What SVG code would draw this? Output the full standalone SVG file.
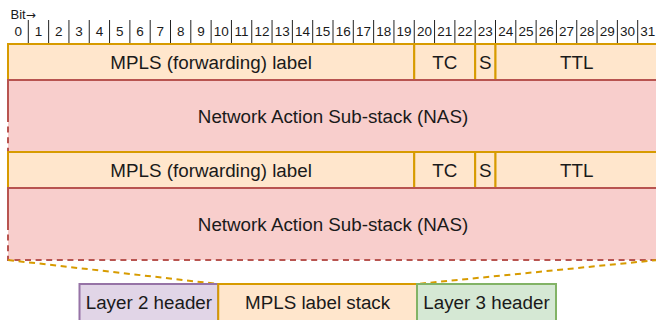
<svg xmlns="http://www.w3.org/2000/svg" width="656" height="320" viewBox="0 0 656 320">
<style>
text{font-family:"Liberation Sans",Arial,sans-serif;fill:#1a1a1a;}
.num{font-size:13.5px;text-anchor:middle;}
.lbl{font-size:18.8px;text-anchor:middle;dominant-baseline:central;}
.mpls{fill:#ffe6cc;stroke:#d79b00;stroke-width:2;}
.nasfill{fill:#f8cecc;stroke:none;}
.nassolid{fill:none;stroke:#b85450;stroke-width:2;}
.nasdash{fill:none;stroke:#b85450;stroke-width:2;stroke-dasharray:6 4.6;}
.tick{stroke:#222;stroke-width:1;}
.l2{fill:#e1d5e7;stroke:#9673a6;stroke-width:2;}
.l3{fill:#d5e8d4;stroke:#82b366;stroke-width:2;}
.conn{fill:none;stroke:#d79b00;stroke-width:2;stroke-dasharray:6 4.6;}
</style>
<g id="bit-ruler">
<text x="10.5" y="18.5" style="font-size:13px">Bit<tspan style="font-family:'DejaVu Sans',sans-serif;font-size:12px">→</tspan></text>
<g class="tick">
<line x1="28.31" y1="20" x2="28.31" y2="44"/><line x1="48.63" y1="20" x2="48.63" y2="44"/><line x1="68.94" y1="20" x2="68.94" y2="44"/><line x1="89.25" y1="20" x2="89.25" y2="44"/><line x1="109.56" y1="20" x2="109.56" y2="44"/><line x1="129.88" y1="20" x2="129.88" y2="44"/><line x1="150.19" y1="20" x2="150.19" y2="44"/><line x1="170.5" y1="20" x2="170.5" y2="44"/><line x1="190.81" y1="20" x2="190.81" y2="44"/><line x1="211.13" y1="20" x2="211.13" y2="44"/><line x1="231.44" y1="20" x2="231.44" y2="44"/><line x1="251.75" y1="20" x2="251.75" y2="44"/><line x1="272.06" y1="20" x2="272.06" y2="44"/><line x1="292.38" y1="20" x2="292.38" y2="44"/><line x1="312.69" y1="20" x2="312.69" y2="44"/><line x1="333" y1="20" x2="333" y2="44"/><line x1="353.31" y1="20" x2="353.31" y2="44"/><line x1="373.63" y1="20" x2="373.63" y2="44"/><line x1="393.94" y1="20" x2="393.94" y2="44"/><line x1="414.25" y1="20" x2="414.25" y2="44"/><line x1="434.56" y1="20" x2="434.56" y2="44"/><line x1="454.88" y1="20" x2="454.88" y2="44"/><line x1="475.19" y1="20" x2="475.19" y2="44"/><line x1="495.5" y1="20" x2="495.5" y2="44"/><line x1="515.81" y1="20" x2="515.81" y2="44"/><line x1="536.13" y1="20" x2="536.13" y2="44"/><line x1="556.44" y1="20" x2="556.44" y2="44"/><line x1="576.75" y1="20" x2="576.75" y2="44"/><line x1="597.06" y1="20" x2="597.06" y2="44"/><line x1="617.38" y1="20" x2="617.38" y2="44"/><line x1="637.69" y1="20" x2="637.69" y2="44"/>
</g>
<g class="num">
<text x="18.16" y="36.3">0</text><text x="38.47" y="36.3">1</text><text x="58.78" y="36.3">2</text><text x="79.09" y="36.3">3</text><text x="99.41" y="36.3">4</text><text x="119.72" y="36.3">5</text><text x="140.03" y="36.3">6</text><text x="160.34" y="36.3">7</text><text x="180.66" y="36.3">8</text><text x="200.97" y="36.3">9</text><text x="221.28" y="36.3">10</text><text x="241.59" y="36.3">11</text><text x="261.91" y="36.3">12</text><text x="282.22" y="36.3">13</text><text x="302.53" y="36.3">14</text><text x="322.84" y="36.3">15</text><text x="343.16" y="36.3">16</text><text x="363.47" y="36.3">17</text><text x="383.78" y="36.3">18</text><text x="404.09" y="36.3">19</text><text x="424.41" y="36.3">20</text><text x="444.72" y="36.3">21</text><text x="465.03" y="36.3">22</text><text x="485.34" y="36.3">23</text><text x="505.66" y="36.3">24</text><text x="525.97" y="36.3">25</text><text x="546.28" y="36.3">26</text><text x="566.59" y="36.3">27</text><text x="586.91" y="36.3">28</text><text x="607.22" y="36.3">29</text><text x="627.53" y="36.3">30</text><text x="647.84" y="36.3">31</text>
</g>
</g>
<g id="mpls-entry-1">
<rect class="mpls" x="8" y="44" width="406.25" height="36"/>
<rect class="mpls" x="414.25" y="44" width="60.94" height="36"/>
<rect class="mpls" x="475.19" y="44" width="20.31" height="36"/>
<rect class="mpls" x="495.5" y="44" width="162.5" height="36"/>
<text class="lbl" x="211.1" y="62">MPLS (forwarding) label</text>
<text class="lbl" x="444.7" y="62">TC</text>
<text class="lbl" x="485.3" y="62">S</text>
<text class="lbl" x="576.75" y="62">TTL</text>
</g>
<g id="nas-1">
<rect class="nasfill" x="8" y="80" width="650" height="72"/>
<path class="nassolid" d="M8,116 V80 H658"/>
<path class="nasdash" d="M8,116 V152 H658"/>
<text class="lbl" x="333" y="116">Network Action Sub-stack (NAS)</text>
</g>
<g id="mpls-entry-2">
<rect class="mpls" x="8" y="152" width="406.25" height="36"/>
<rect class="mpls" x="414.25" y="152" width="60.94" height="36"/>
<rect class="mpls" x="475.19" y="152" width="20.31" height="36"/>
<rect class="mpls" x="495.5" y="152" width="162.5" height="36"/>
<text class="lbl" x="211.1" y="170">MPLS (forwarding) label</text>
<text class="lbl" x="444.7" y="170">TC</text>
<text class="lbl" x="485.3" y="170">S</text>
<text class="lbl" x="576.75" y="170">TTL</text>
</g>
<g id="nas-2">
<rect class="nasfill" x="8" y="188" width="650" height="72"/>
<path class="nassolid" d="M8,224 V188 H658"/>
<path class="nasdash" d="M8,224 V260 H658"/>
<text class="lbl" x="333" y="224">Network Action Sub-stack (NAS)</text>
</g>
<g id="connectors">
<path class="conn" d="M8,260 L218,284"/>
<path class="conn" d="M658,260 L417,284"/>
</g>
<g id="layer2-header">
<rect class="l2" x="79.5" y="284" width="138.75" height="40"/>
<text class="lbl" x="148.9" y="302">Layer 2 header</text>
</g>
<g id="mpls-label-stack">
<rect class="mpls" x="218.25" y="284" width="198.75" height="40"/>
<text class="lbl" x="317.6" y="302">MPLS label stack</text>
</g>
<g id="layer3-header">
<rect class="l3" x="417" y="284" width="139" height="40"/>
<text class="lbl" x="486.5" y="302">Layer 3 header</text>
</g>
</svg>
